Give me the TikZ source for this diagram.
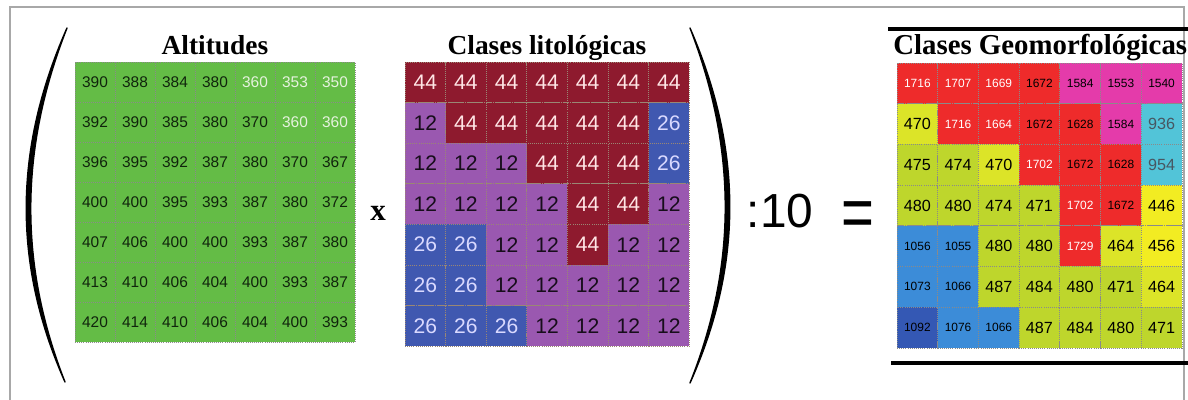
\documentclass[tikz,border=0pt]{standalone}
\usepackage{fontspec}
\setmainfont{Liberation Serif}
\setsansfont{Liberation Sans}
\definecolor{altgreen}{HTML}{64BC46}
\definecolor{altk}{HTML}{10240C}
\definecolor{altw}{HTML}{E6F2DE}
\definecolor{litred}{HTML}{8E1A2E}
\definecolor{litpurple}{HTML}{9A58B0}
\definecolor{litblue}{HTML}{4058B0}
\definecolor{geored}{HTML}{EE2B2B}
\definecolor{geomag}{HTML}{E43BAA}
\definecolor{geoyel}{HTML}{F2EC22}
\definecolor{geoyl}{HTML}{DCE428}
\definecolor{geolime}{HTML}{BED62C}
\definecolor{geocyan}{HTML}{52C4D8}
\definecolor{geoblue}{HTML}{3C8CD8}
\definecolor{geodark}{HTML}{3458B4}
\definecolor{gridgrey}{HTML}{8A8A8A}
\definecolor{framegrey}{HTML}{A8A8A8}
\tikzset{
  cell/.style={draw=#1, densely dotted, line width=0.5pt, inner sep=0pt, font=\sffamily},
  cell/.default=gridgrey,
  title/.style={font=\fontsize{19.5}{22}\selectfont\bfseries, anchor=base, inner sep=0pt},
  big/.style={font=\sffamily\fontsize{34}{36}\selectfont, inner sep=0pt},
  paren/.style={fill=black, draw=black, line width=1pt, line join=round},
}
\begin{document}
\begin{tikzpicture}[x=0.025cm, y=-0.025cm,
  alt/.style={cell, fill=altgreen, minimum size=1cm, font=\sffamily\fontsize{11}{12}\selectfont},
  lit/.style={cell=gridgrey!70!brown, minimum size=1.015cm, font=\sffamily\fontsize{15}{16}\selectfont},
  lit12/.style={fill=litpurple, text=black!85!litpurple},
  lit26/.style={fill=litblue, text=blue!15!white},
  lit44/.style={fill=litred, text=red!10!white},
  geo/.style={cell, minimum size=1.0175cm},
  small/.style={font=\sffamily\fontsize{8.5}{9}\selectfont},
  mid/.style={font=\sffamily\fontsize{11.5}{12}\selectfont},
  geor/.style={small, fill=geored, text=white},
  geork/.style={small, fill=geored, text=black},
  geom/.style={small, fill=geomag, text=black},
  geob/.style={small, fill=geoblue, text=black},
  geod/.style={small, fill=geodark, text=black},
  geoy/.style={mid, fill=geoyel, text=black},
  geoyl/.style={mid, fill=geoyl, text=black},
  geog/.style={mid, fill=geolime, text=black},
  geoc/.style={mid, fill=geocyan, text=black!70!cyan}]
  \useasboundingbox (0,0) rectangle (1188,400);
  \draw[framegrey, line width=0.8pt] (10,400) -- (10,7) -- (1184,7) -- (1184,400);

  % altitudes
  \node[title] (alt-title) at (215,55) {Altitudes};
  \foreach \row [count=\r] in {%
    {390/k,388/k,384/k,380/k,360/w,353/w,350/w},
    {392/k,390/k,385/k,380/k,370/k,360/w,360/w},
    {396/k,395/k,392/k,387/k,380/k,370/k,367/k},
    {400/k,400/k,395/k,393/k,387/k,380/k,372/k},
    {407/k,406/k,400/k,400/k,393/k,387/k,380/k},
    {413/k,410/k,406/k,404/k,400/k,393/k,387/k},
    {420/k,414/k,410/k,406/k,404/k,400/k,393/k}}
    \foreach \v/\t [count=\c] in \row
      \node[alt, text=alt\t] (alt-\r-\c) at ({75+40*\c-20},{62+40*\r-20}) {\v};

  \node[title, font=\fontsize{22}{24}\selectfont\bfseries, anchor=center] (times) at (378,213) {x};

  % lithology
  \node[title] (lit-title) at (547,55) {Clases litológicas};
  \foreach \row [count=\r] in {%
    {44,44,44,44,44,44,44},
    {12,44,44,44,44,44,26},
    {12,12,12,44,44,44,26},
    {12,12,12,12,44,44,12},
    {26,26,12,12,44,12,12},
    {26,26,12,12,12,12,12},
    {26,26,26,12,12,12,12}}
    \foreach \v [count=\c] in \row
      \node[lit, lit\v] (lit-\r-\c) at ({405+40.6*\c-20.3},{62+40.6*\r-20.3}) {\v};

  % brackets
  \path[paren] (67,28) .. controls (13,150) and (13,265) .. (65,382)
    .. controls (19,265) and (19,150) .. (67,28) -- cycle;
  \path[paren] (690,28) .. controls (743,150) and (743,265) .. (690,383)
    .. controls (737,265) and (737,150) .. (690,28) -- cycle;

  \node[big] (div) at (780,211) {:10};
  \node[big, font=\sffamily\fontsize{40}{42}\selectfont] (eq) at (858,220) {\scalebox{1}[1.3]{=}};

  % geomorphology
  \draw[line width=2.2pt] (888,29) -- (1188,29);
  \draw[line width=2.8pt] (891,363) -- (1188,363);
  \node[title, font=\fontsize{20.5}{22}\selectfont\bfseries, anchor=base west] (geo-title) at (893,55) {Clases Geomorfológicas};
  \foreach \row [count=\r] in {%
    {1716/r,1707/r,1669/r,1672/rk,1584/m,1553/m,1540/m},
    {470/yl,1716/r,1664/r,1672/rk,1628/rk,1584/m,936/c},
    {475/g,474/g,470/yl,1702/r,1672/rk,1628/rk,954/c},
    {480/g,480/g,474/g,471/g,1702/r,1672/rk,446/y},
    {1056/b,1055/b,480/g,480/g,1729/r,464/yl,456/y},
    {1073/b,1066/b,487/g,484/g,480/g,471/g,464/yl},
    {1092/d,1076/b,1066/b,487/g,484/g,480/g,471/g}}
    \foreach \v/\s [count=\c] in \row
      \node[geo, geo\s] (geo-\r-\c) at ({897+40.7*\c-20.35},{63+40.7*\r-20.35}) {\v};
\end{tikzpicture}
\end{document}
